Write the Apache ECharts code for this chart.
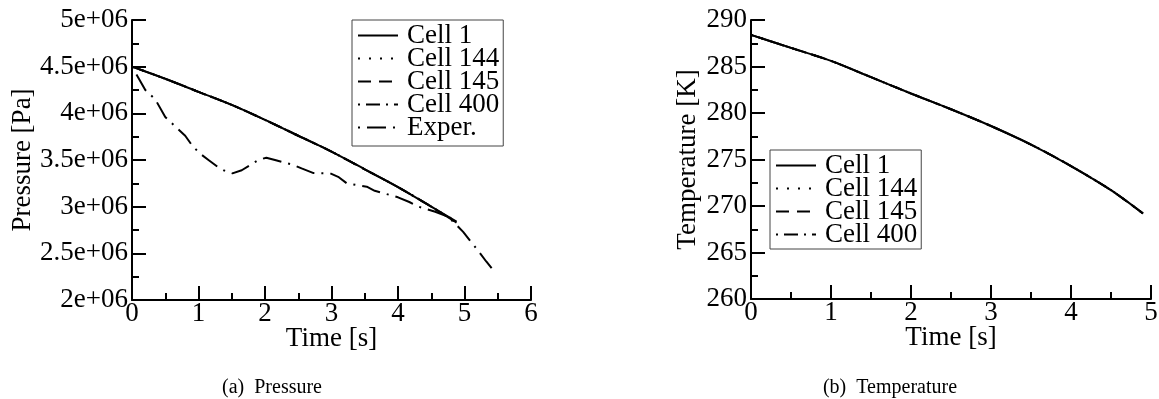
<!DOCTYPE html>
<html lang="en">
<head>
<meta charset="UTF-8">
<script src="https://cdn.jsdelivr.net/npm/echarts@6.0.0/dist/echarts.min.js"></script>
<title>Pressure and temperature</title>
<style>
  html, body { margin: 0; padding: 0; background: #fff; }
  #chart { width: 1159px; height: 399px; }
</style>
</head>
<body>
<div id="chart"></div>
<script>
// ---- data ----
// (a) pressure, simulated cells (they lie on top of each other)
const pTime   = [0, 0.5, 1, 1.5, 2, 2.5, 3, 3.5, 4, 4.5, 4.88];
const cell1P   = [4.50e6, 4.37e6, 4.23e6, 4.09e6, 3.93e6, 3.76e6, 3.59e6, 3.40e6, 3.21e6, 3.00e6, 2.84e6];
const cell144P = [4.50e6, 4.37e6, 4.23e6, 4.09e6, 3.93e6, 3.76e6, 3.59e6, 3.40e6, 3.21e6, 3.00e6, 2.84e6];
const cell145P = [4.50e6, 4.37e6, 4.23e6, 4.09e6, 3.93e6, 3.76e6, 3.59e6, 3.40e6, 3.21e6, 3.00e6, 2.83e6];
const cell400P = [4.50e6, 4.37e6, 4.23e6, 4.09e6, 3.93e6, 3.76e6, 3.59e6, 3.40e6, 3.21e6, 3.00e6, 2.83e6];
// (a) experiment
const experTime = [0, 0.2, 0.35, 0.5, 0.65, 0.8, 0.92, 1.04, 1.15, 1.3, 1.42, 1.51, 1.65, 1.9, 2.02, 2.15,
                   2.43, 2.55, 2.73, 2.98, 3.1, 3.23, 3.53, 3.65, 3.88, 4.0, 4.17, 4.31, 4.56, 4.73, 4.83,
                   4.98, 5.08, 5.18, 5.33, 5.42];
const experP = [4.50e6, 4.25e6, 4.15e6, 3.96e6, 3.86e6, 3.76e6, 3.64e6, 3.56e6, 3.50e6, 3.42e6, 3.375e6,
                3.357e6, 3.39e6, 3.50e6, 3.525e6, 3.50e6, 3.446e6, 3.41e6, 3.36e6, 3.357e6, 3.32e6, 3.25e6,
                3.214e6, 3.17e6, 3.125e6, 3.10e6, 3.05e6, 3.00e6, 2.946e6, 2.90e6, 2.84e6, 2.73e6, 2.64e6,
                2.55e6, 2.41e6, 2.33e6];
// (b) temperature
const tTime    = [0, 0.5, 1, 1.5, 2, 2.5, 3, 3.5, 4, 4.5, 4.9];
const cell1T   = [288.4, 287.0, 285.6, 283.85, 282.1, 280.4, 278.6, 276.6, 274.3, 271.7, 269.2];
const cell144T = [288.4, 287.0, 285.6, 283.85, 282.1, 280.4, 278.6, 276.6, 274.3, 271.7, 269.2];
const cell145T = [288.4, 287.0, 285.6, 283.85, 282.1, 280.4, 278.6, 276.6, 274.3, 271.7, 269.2];
const cell400T = [288.4, 287.0, 285.6, 283.85, 282.1, 280.4, 278.6, 276.6, 274.3, 271.7, 269.2];

// tick labels
const pTickLabels = ['2e+06', '2.5e+06', '3e+06', '3.5e+06', '4e+06', '4.5e+06', '5e+06'];
const tTickLabels = ['260', '265', '270', '275', '280', '285', '290'];
const legendP = ['Cell 1', 'Cell 144', 'Cell 145', 'Cell 400', 'Exper.'];
const legendT = ['Cell 1', 'Cell 144', 'Cell 145', 'Cell 400'];

// ---- styles ----
const FONT = 'Liberation Serif';
const INK = '#000';
const dash = {
  'Cell 1': 'solid',
  'Cell 144': [2, 9],
  'Cell 145': [13, 8],
  'Cell 400': [2, 6, 14, 6],
  'Exper.': [2, 7, 19, 7]
};

function pairs(xs, ys) { return xs.map((x, i) => [x, ys[i]]); }

function line(name, xs, ys, idx, smooth) {
  return {
    type: 'line', name: name, xAxisIndex: idx, yAxisIndex: idx,
    data: pairs(xs, ys), symbol: 'none', smooth: smooth ? 0.3 : false,
    itemStyle: { color: INK, opacity: 0 },
    lineStyle: { color: INK, width: 2, type: dash[name], cap: 'butt' },
    emphasis: { disabled: true }, silent: true
  };
}

function xAxis(idx, max) {
  return {
    type: 'value', gridIndex: idx, min: 0, max: max, interval: 1,
    name: 'Time [s]', nameLocation: 'middle', nameGap: 25, nameMoveOverlap: false,
    nameTextStyle: { fontFamily: FONT, fontSize: 27, color: INK },
    axisLine: { show: true, onZero: false, lineStyle: { color: INK, width: 2 } },
    axisTick: { inside: true, length: 14, lineStyle: { color: INK, width: 2 } },
    minorTick: { show: true, splitNumber: 2, length: 7, lineStyle: { color: INK, width: 2 } },
    splitLine: { show: false },
    axisLabel: { fontFamily: FONT, fontSize: 27, color: INK, margin: 0, hideOverlap: false }
  };
}

function yAxis(idx, min, max, step, labels, name, gap) {
  return {
    type: 'value', gridIndex: idx, min: min, max: max, interval: step,
    name: name, nameLocation: 'middle', nameGap: gap, nameMoveOverlap: false,
    nameTextStyle: { fontFamily: FONT, fontSize: 27, color: INK },
    axisLine: { show: true, onZero: false, lineStyle: { color: INK, width: 2 } },
    axisTick: { inside: true, length: 14, lineStyle: { color: INK, width: 2 } },
    minorTick: { show: true, splitNumber: 2, length: 7, lineStyle: { color: INK, width: 2 } },
    splitLine: { show: false },
    axisLabel: {
      fontFamily: FONT, fontSize: 27, color: INK, margin: 4, hideOverlap: false,
      formatter: (v) => labels[Math.round((v - min) / step)]
    }
  };
}

function legend(left, top, names, bottomPad) {
  return {
    orient: 'vertical', left: left, top: top, data: names,
    itemWidth: 40, itemHeight: 14, itemGap: -4,
    padding: [2, 4, bottomPad, 5], borderColor: '#444', borderWidth: 1,
    backgroundColor: '#fff', selectedMode: false,
    itemStyle: { opacity: 0 },
    textStyle: { fontFamily: FONT, fontSize: 27, color: INK, padding: [0, 0, 0, 4] }
  };
}

const chart = echarts.init(document.getElementById('chart'), null, { renderer: 'canvas' });
chart.setOption({
  animation: false,
  backgroundColor: '#fff',
  textStyle: { fontFamily: FONT, color: INK },
  grid: [
    { left: 132, top: 20, width: 399, height: 280, containLabel: false, outerBoundsMode: 'none' },
    { left: 751, top: 20, width: 400, height: 279, containLabel: false, outerBoundsMode: 'none' }
  ],
  xAxis: [xAxis(0, 6), xAxis(1, 5)],
  yAxis: [
    yAxis(0, 2e6, 5e6, 5e5, pTickLabels, 'Pressure [Pa]', 96),
    yAxis(1, 260, 290, 5, tTickLabels, 'Temperature [K]', 50)
  ],
  legend: [legend(352, 20, legendP, 5), legend(770, 150, legendT, 1)],
  series: [
    line('Cell 144', pTime, cell144P, 0, true),
    line('Cell 145', pTime, cell145P, 0, true),
    line('Cell 400', pTime, cell400P, 0, true),
    line('Exper.', experTime, experP, 0, false),
    line('Cell 1', pTime, cell1P, 0, true),
    line('Cell 144', tTime, cell144T, 1, true),
    line('Cell 145', tTime, cell145T, 1, true),
    line('Cell 400', tTime, cell400T, 1, true),
    line('Cell 1', tTime, cell1T, 1, true)
  ],
  graphic: [
    { type: 'text', x: 272, y: 388, silent: true,
      style: { text: '(a)  Pressure', font: '20px "Liberation Serif"', fill: INK, textAlign: 'center', textVerticalAlign: 'middle' } },
    { type: 'text', x: 890, y: 388, silent: true,
      style: { text: '(b)  Temperature', font: '20px "Liberation Serif"', fill: INK, textAlign: 'center', textVerticalAlign: 'middle' } }
  ]
});
</script>
</body>
</html>
